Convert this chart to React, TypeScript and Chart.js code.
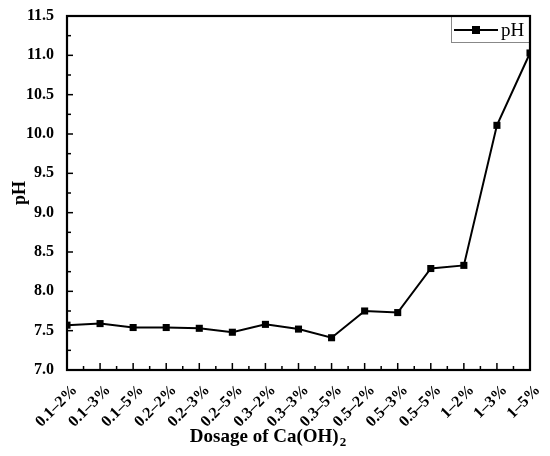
import { useEffect, useRef } from 'react';
import { Chart, registerables } from 'chart.js';

Chart.register(...registerables);

const categories = [
  '0.1–2%', '0.1–3%', '0.1–5%', '0.2–2%', '0.2–3%', '0.2–5%', '0.3–2%', '0.3–3%',
  '0.3–5%', '0.5–2%', '0.5–3%', '0.5–5%', '1–2%', '1–3%', '1–5%',
];
const phValues = [7.57, 7.59, 7.54, 7.54, 7.53, 7.48, 7.58, 7.52, 7.41, 7.75, 7.73, 8.29, 8.33, 10.11, 11.03];
const yTickValues = [7.0, 7.5, 8.0, 8.5, 9.0, 9.5, 10.0, 10.5, 11.0, 11.5];
const seriesLabel = 'pH';
const xTitleMain = 'Dosage of Ca(OH)';
const xTitleSub = '2';
const yTitle = 'pH';

const SERIF = '"Liberation Serif", "Times New Roman", serif';

const decorPlugin = {
  id: 'decor',
  afterDatasetsDraw(chart: any) {
    const { ctx, chartArea: a, scales } = chart;
    const x = scales.x;
    const y = scales.y;
    ctx.save();
    ctx.strokeStyle = '#000';
    ctx.lineWidth = 1.5;
    const line = (x1: number, y1: number, x2: number, y2: number) => {
      ctx.beginPath();
      ctx.moveTo(x1, y1);
      ctx.lineTo(x2, y2);
      ctx.stroke();
    };
    // x ticks (inward)
    for (let i = 0; i < categories.length; i++) {
      const px = x.getPixelForValue(i);
      line(px, a.bottom, px, a.bottom - 7);
      if (i < categories.length - 1) {
        const mid = (px + x.getPixelForValue(i + 1)) / 2;
        line(mid, a.bottom, mid, a.bottom - 4);
      }
    }
    // y ticks (inward)
    for (let i = 0; i < yTickValues.length; i++) {
      const v = yTickValues[i];
      const py = y.getPixelForValue(v);
      line(a.left, py, a.left + 6, py);
      if (i < yTickValues.length - 1) {
        const pm = y.getPixelForValue((v + yTickValues[i + 1]) / 2);
        line(a.left, pm, a.left + 4, pm);
      }
    }
    // legend
    const lw = 79;
    const lh = 27;
    const lx = a.right - lw;
    const ly = a.top;
    ctx.fillStyle = '#fff';
    ctx.fillRect(lx, ly, lw, lh);
    ctx.lineWidth = 1;
    ctx.strokeStyle = '#888';
    ctx.strokeRect(lx + 0.5, ly + 0.5, lw - 1, lh - 1);
    ctx.strokeStyle = '#000';
    ctx.lineWidth = 1.8;
    const cy = ly + lh / 2 + 0.5;
    line(lx + 3, cy, lx + 47, cy);
    ctx.fillStyle = '#000';
    ctx.fillRect(lx + 25 - 4, cy - 4, 8, 8);
    ctx.font = `19px ${SERIF}`;
    ctx.textAlign = 'left';
    ctx.textBaseline = 'middle';
    ctx.fillText(seriesLabel, lx + 50, cy + 1);
    // frame
    ctx.lineWidth = 2.2;
    ctx.strokeRect(a.left, a.top, a.right - a.left, a.bottom - a.top);
    ctx.restore();
  },
  afterDraw(chart: any) {
    const { ctx, chartArea: a } = chart;
    ctx.save();
    ctx.fillStyle = '#000';
    // x title with subscript
    ctx.font = `bold 19px ${SERIF}`;
    const wMain = ctx.measureText(xTitleMain).width;
    ctx.font = `bold 13px ${SERIF}`;
    const wSub = ctx.measureText(xTitleSub).width;
    const total = wMain + wSub + 1;
    const cx = a.left + 201;
    const ty = a.bottom + 67;
    ctx.textBaseline = 'middle';
    ctx.textAlign = 'left';
    ctx.font = `bold 19px ${SERIF}`;
    ctx.fillText(xTitleMain, cx - total / 2, ty);
    ctx.font = `bold 13px ${SERIF}`;
    ctx.fillText(xTitleSub, cx - total / 2 + wMain + 1, ty + 6);
    // y title
    ctx.font = `bold 18px ${SERIF}`;
    ctx.translate(20, (a.top + a.bottom) / 2);
    ctx.rotate(-Math.PI / 2);
    ctx.textAlign = 'center';
    ctx.fillText(yTitle, 0, 0);
    ctx.restore();
  },
};

export default function App() {
  const ref = useRef<HTMLCanvasElement | null>(null);
  useEffect(() => {
    if (!ref.current) return;
    const chart = new Chart(ref.current, {
      type: 'line',
      data: {
        labels: categories,
        datasets: [
          {
            label: seriesLabel,
            data: phValues,
            borderColor: '#000',
            backgroundColor: '#000',
            borderWidth: 2,
            pointStyle: 'rect',
            pointRadius: 5,
            pointBorderWidth: 0,
            tension: 0,
            clip: 0,
          } as any,
        ],
      },
      options: {
        animation: false,
        responsive: true,
        maintainAspectRatio: false,
        layout: { padding: { top: 16, right: 20, left: 0, bottom: 0 } },
        plugins: {
          legend: { display: false },
          tooltip: { enabled: false },
          title: { display: false },
        },
        scales: {
          x: {
            type: 'category',
            offset: false,
            grid: { display: false },
            border: { display: false },
            ticks: {
              autoSkip: false,
              maxRotation: 45,
              minRotation: 45,
              padding: 3,
              labelOffset: 8,
              color: '#000',
              font: { family: SERIF, size: 16, weight: 'bold' },
            },
            afterFit: (s: any) => {
              s.height = 86;
            },
          },
          y: {
            min: 7,
            max: 11.5,
            grid: { display: false },
            border: { display: false },
            afterBuildTicks: (s: any) => {
              s.ticks = yTickValues.map((v) => ({ value: v }));
            },
            ticks: {
              padding: 5,
              color: '#000',
              font: { family: SERIF, size: 16, weight: 'bold' },
              callback: (v: any) => Number(v).toFixed(1),
            },
            afterFit: (s: any) => {
              s.width = 67;
            },
          },
        },
      },
      plugins: [decorPlugin],
    });
    return () => chart.destroy();
  }, []);
  return (
    <div style={{ position: 'fixed', left: 0, top: 0, width: 550, height: 456, background: '#fff' }}>
      <canvas ref={ref} />
    </div>
  );
}
